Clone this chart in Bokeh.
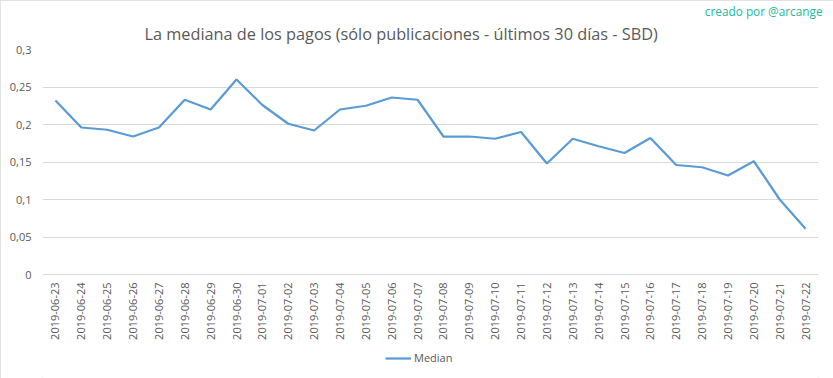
import math
from bokeh.plotting import figure
from bokeh.models import FactorRange, Range1d, Title, Legend, LegendItem, FixedTicker
from bokeh.core.properties import value
from bokeh.embed import file_html
from bokeh.resources import INLINE

dates = ["2019-06-23", "2019-06-24", "2019-06-25", "2019-06-26", "2019-06-27",
         "2019-06-28", "2019-06-29", "2019-06-30", "2019-07-01", "2019-07-02",
         "2019-07-03", "2019-07-04", "2019-07-05", "2019-07-06", "2019-07-07",
         "2019-07-08", "2019-07-09", "2019-07-10", "2019-07-11", "2019-07-12",
         "2019-07-13", "2019-07-14", "2019-07-15", "2019-07-16", "2019-07-17",
         "2019-07-18", "2019-07-19", "2019-07-20", "2019-07-21", "2019-07-22"]
median = [0.232, 0.196, 0.193, 0.184, 0.196, 0.233, 0.220, 0.260, 0.226, 0.201,
          0.192, 0.220, 0.225, 0.236, 0.233, 0.184, 0.184, 0.181, 0.190, 0.148,
          0.181, 0.171, 0.162, 0.182, 0.146, 0.143, 0.132, 0.151, 0.100, 0.061]
y_ticks = [0, 0.05, 0.1, 0.15, 0.2, 0.25, 0.3]
y_tick_labels = ["0", "0,05", "0,1", "0,15", "0,2", "0,25", "0,3"]
title_text = "La mediana de los pagos (sólo publicaciones - últimos 30 días - SBD)"
credit_text = "creado por @arcange"
series_name = "Median"

FONT = "Open Sans"
GRAY = "#595959"
Y_MAX = 0.3
# extra room below zero holds the date labels and the legend (104 px at 750 px per unit)
Y_MIN = -104 / 750

p = figure(x_range=FactorRange(factors=dates, range_padding=0),
           y_range=Range1d(Y_MIN, Y_MAX),
           frame_width=776, frame_height=329,
           min_border_left=42, min_border_right=15, min_border_top=49, min_border_bottom=0,
           output_backend="svg", toolbar_location=None)
p.outline_line_color = None
p.background_fill_color = "white"
p.border_fill_color = "white"
p.styles = {"outline": "1px solid #d9d9d9", "outline-offset": "-1px"}

r = p.line(x=dates, y=median, line_color="#5b9bd5", line_width=2.25)

# category labels under the zero line, read bottom-to-top
p.text(x=dates, y=[y_ticks[0]] * len(dates), text=dates, angle=math.pi / 2,
       y_offset=8, text_align="right", text_baseline="middle",
       text_font=value(FONT), text_font_size="11px", text_color=GRAY)

p.xgrid.grid_line_color = None
p.ygrid.grid_line_color = "#d9d9d9"
p.ygrid.grid_line_width = 1
p.xaxis.visible = False

p.yaxis.ticker = FixedTicker(ticks=y_ticks)
p.yaxis.major_label_overrides = dict(zip(y_ticks, y_tick_labels))
p.yaxis.axis_line_color = None
p.yaxis.major_tick_out = 0
p.yaxis.major_tick_in = 0
p.yaxis.minor_tick_out = 0
p.yaxis.minor_tick_in = 0
p.yaxis.major_tick_line_color = None
p.yaxis.minor_tick_line_color = None
p.yaxis.major_label_standoff = 11
p.yaxis.major_label_text_font = FONT
p.yaxis.major_label_text_font_size = "11px"
p.yaxis.major_label_text_color = GRAY

p.add_layout(Title(text=title_text, align="left", offset=102, text_font=FONT,
                   text_font_size="16.3px", text_font_style="normal",
                   text_color=GRAY, standoff=10), "above")
p.add_layout(Title(text=credit_text, align="right", text_font=FONT,
                   text_font_size="11.8px", text_font_style="normal",
                   text_color="#1abc9c", offset=-4, standoff=-6), "above")

legend = Legend(items=[LegendItem(label=series_name, renderers=[r])],
                location=(343, 13), orientation="horizontal",
                padding=0, margin=0, spacing=0, glyph_width=26, glyph_height=14,
                label_height=14, label_standoff=3, border_line_color=None,
                background_fill_alpha=0, label_text_font=FONT,
                label_text_font_size="11px", label_text_color=GRAY)
p.add_layout(legend, "center")

open("out.html", "w").write(file_html(p, INLINE))
